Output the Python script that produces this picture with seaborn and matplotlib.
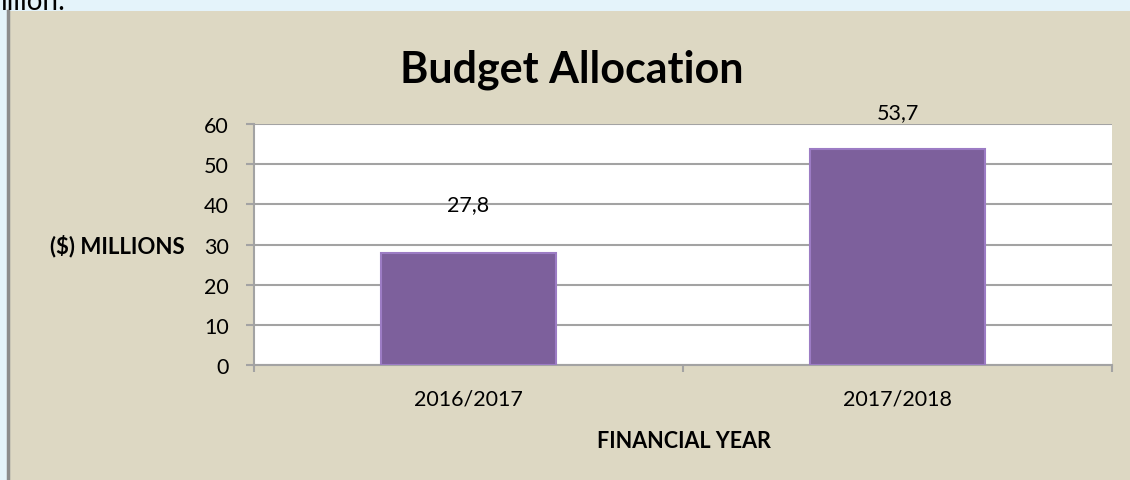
import matplotlib
matplotlib.use("Agg")
import matplotlib.pyplot as plt
import seaborn as sns
import pandas as pd

years = ["2016/2017", "2017/2018"]
budget = [27.8, 53.7]
value_labels = ["27,8", "53,7"]

df = pd.DataFrame({"year": years, "budget": budget})

sns.set_style("white")
plt.rcParams["font.family"] = ["Lato", "DejaVu Sans"]
plt.rcParams["text.color"] = "black"
plt.rcParams["xtick.color"] = "black"
plt.rcParams["ytick.color"] = "black"

fig = plt.figure(figsize=(11.3, 4.81), dpi=100)
fig.patch.set_facecolor("#E4F3FA")

# beige chart panel behind everything
bg = fig.add_axes([8 / 1130, 0, 1 - 8 / 1130, (481 - 12) / 481], zorder=-1)
bg.set_facecolor("#DDD8C3")
bg.set_xticks([])
bg.set_yticks([])
for s in ["top", "right", "bottom"]:
    bg.spines[s].set_visible(False)
bg.spines["left"].set_color("#8C8C8C")
bg.spines["left"].set_linewidth(2.5)

# slide text cut off at the top edge, as in the reference
fig.text(0.0, 0.995, "illion:", fontsize=20, va="center", ha="left")

ax = fig.add_axes([254 / 1130, 1 - 366 / 481, (1112 - 254) / 1130, (366 - 125) / 481], zorder=1)
ax.set_facecolor("white")

sns.barplot(data=df, x="year", y="budget", color="#7D56A6", width=0.41,
            edgecolor="#9C7CC4", linewidth=1.5, ax=ax, zorder=3)

ax.set_ylim(0, 60)
ax.set_xlim(-0.5, 1.5)
ax.set_yticks(range(0, 61, 10))
ax.yaxis.grid(True, color="#A3A3A3", lw=1.5)
ax.set_axisbelow(True)
for s in ["top", "right"]:
    ax.spines[s].set_visible(False)
ax.spines["left"].set_color("#A3A3A3")
ax.spines["bottom"].set_color("#A3A3A3")
ax.spines["left"].set_linewidth(1.5)
ax.spines["bottom"].set_linewidth(1.5)

ax.tick_params(axis="y", length=6, width=1.5, color="#A3A3A3", labelsize=15.5, pad=12,
               direction="out", left=True)
ax.tick_params(axis="x", which="major", length=0, labelsize=15.5, pad=17)
ax.set_xticks([-0.5, 0.5, 1.5], minor=True)
ax.tick_params(axis="x", which="minor", length=5, width=1.5, color="#A3A3A3",
               direction="out", bottom=True)

offsets = [49, 37]
for i, (v, lab) in enumerate(zip(budget, value_labels)):
    ax.annotate(lab, xy=(i, v), xytext=(0, offsets[i]), textcoords="offset pixels",
                ha="center", va="center", fontsize=15.5, zorder=5, annotation_clip=False)

ax.set_xlabel("")
ax.set_ylabel("")
fig.text(684 / 1130, 1 - 442 / 481, "FINANCIAL YEAR", fontsize=15.5, fontweight="bold",
         ha="center", va="center")
fig.text(117 / 1130, 1 - 246 / 481, "($) MILLIONS", fontsize=16, fontweight="bold",
         ha="center", va="center")
fig.text(572 / 1130, 1 - 70 / 481, "Budget Allocation", fontsize=31, fontweight="bold",
         ha="center", va="center")

fig.savefig("out.png", dpi=100, facecolor=fig.get_facecolor())
